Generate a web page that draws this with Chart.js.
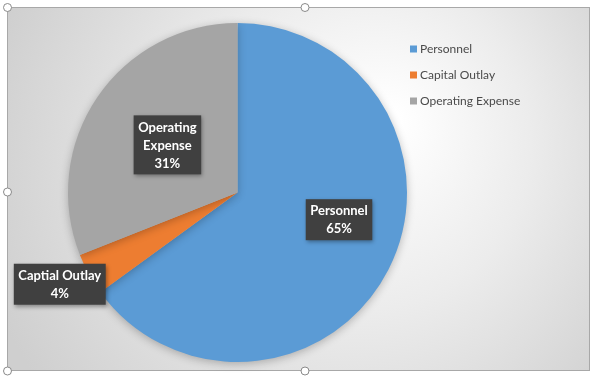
<!DOCTYPE html>
<html>
<head>
<meta charset="utf-8">
<script src="https://cdn.jsdelivr.net/npm/chart.js@4.4.1/dist/chart.umd.min.js"></script>
<style>
  html, body { margin: 0; padding: 0; background: #ffffff; }
  #wrap { position: relative; width: 597px; height: 377px; }
</style>
</head>
<body>
<div id="wrap"><canvas id="chart" width="597" height="377"></canvas></div>
<script>
// 데이터
const categories = ['Personnel', 'Capital Outlay', 'Operating Expense'];
const labelNames = ['Personnel', 'Captial Outlay', 'Operating Expense'];
const shares = [65, 4, 31];
const colors = ['#5b9bd5', '#ed7d31', '#a5a5a5'];

// 라벨 위치 (반지름 비율, 각도 보정)
const labelRadius = [0.62, 1.18, 0.5];
const labelAngleShift = [-12, 1.5, 0];

const FONT = 'Lato, "Open Sans", sans-serif';

// 배경 + 프레임 + 핸들
const backgroundPlugin = {
    id: 'frameBg',
    beforeDraw(chart) {
        const ctx = chart.ctx;
        ctx.save();
        const g = ctx.createRadialGradient(390, 120, 10, 330, 170, 360);
        g.addColorStop(0, '#ffffff');
        g.addColorStop(0.45, '#ececec');
        g.addColorStop(1, '#cfcfcf');
        ctx.fillStyle = g;
        ctx.fillRect(8, 7, 582, 363);
        ctx.strokeStyle = '#a8a8a8';
        ctx.lineWidth = 1;
        ctx.strokeRect(7.5, 7.5, 582, 363);
        ctx.restore();
    },
    afterDraw(chart) {
        const ctx = chart.ctx;
        ctx.save();
        const handles = [[7.5, 7.5], [305, 7.5], [7.5, 192], [305, 371], [7.5, 371]];
        handles.forEach(h => {
            ctx.beginPath();
            ctx.arc(h[0], h[1], 4, 0, Math.PI * 2);
            ctx.fillStyle = '#ffffff';
            ctx.fill();
            ctx.strokeStyle = '#8a8a8a';
            ctx.stroke();
        });
        ctx.restore();
    }
};

// 파이 그림자
const shadowPlugin = {
    id: 'pieShadow',
    beforeDatasetsDraw(chart) {
        const ctx = chart.ctx;
        ctx.save();
        ctx.shadowColor = 'rgba(0,0,0,0.25)';
        ctx.shadowBlur = 8;
        ctx.shadowOffsetX = 0;
        ctx.shadowOffsetY = 2;
    },
    afterDatasetsDraw(chart) {
        chart.ctx.restore();
    }
};

// 데이터 라벨 (어두운 박스)
const boxLabelPlugin = {
    id: 'boxLabels',
    afterDatasetsDraw(chart) {
        const ctx = chart.ctx;
        const meta = chart.getDatasetMeta(0);
        ctx.save();
        ctx.font = 'bold 13px ' + FONT;
        ctx.textAlign = 'center';
        ctx.textBaseline = 'middle';
        meta.data.forEach((arc, i) => {
            const p = arc.getProps(['x', 'y', 'startAngle', 'endAngle', 'outerRadius'], true);
            const mid = (p.startAngle + p.endAngle) / 2 + labelAngleShift[i] * Math.PI / 180;
            const r = p.outerRadius * labelRadius[i];
            const cx = p.x + Math.cos(mid) * r;
            const cy = p.y + Math.sin(mid) * r;

            let lines;
            if (i === 1) lines = [labelNames[i]];
            else lines = labelNames[i].split(' ');
            lines.push(shares[i] + '%');

            const lh = 18;
            let w = 0;
            lines.forEach(t => { w = Math.max(w, ctx.measureText(t).width); });
            const bw = w + 9;
            const bh = lines.length * lh + 5;
            const bx = cx - bw / 2;
            const by = cy - bh / 2;

            ctx.save();
            ctx.shadowColor = 'rgba(0,0,0,0.35)';
            ctx.shadowBlur = 4;
            ctx.shadowOffsetX = 1;
            ctx.shadowOffsetY = 2;
            ctx.fillStyle = '#404040';
            ctx.fillRect(bx, by, bw, bh);
            ctx.restore();

            ctx.fillStyle = '#ffffff';
            lines.forEach((t, k) => {
                ctx.fillText(t, cx, by + 3 + lh / 2 + k * lh);
            });
        });
        ctx.restore();
    }
};

// 범례
const legendPlugin = {
    id: 'sideLegend',
    afterDraw(chart) {
        const ctx = chart.ctx;
        const x0 = chart.chartArea.right + 2;
        const y0 = 49;
        ctx.save();
        ctx.font = '12px ' + FONT;
        ctx.textBaseline = 'middle';
        ctx.textAlign = 'left';
        categories.forEach((c, i) => {
            const y = y0 + i * 26;
            ctx.fillStyle = colors[i];
            ctx.fillRect(x0, y - 3.5, 7, 7);
            ctx.fillStyle = '#4a4a4a';
            ctx.fillText(c, x0 + 10, y);
        });
        ctx.restore();
    }
};

new Chart(document.getElementById('chart'), {
    type: 'pie',
    data: {
        labels: categories,
        datasets: [{
            data: shares,
            backgroundColor: colors,
            borderWidth: 0
        }]
    },
    options: {
        responsive: false,
        animation: false,
        layout: {
            padding: { left: 67, right: 189, top: 23, bottom: 15 }
        },
        plugins: {
            legend: { display: false },
            tooltip: { enabled: false }
        }
    },
    plugins: [backgroundPlugin, shadowPlugin, boxLabelPlugin, legendPlugin]
});
</script>
</body>
</html>
